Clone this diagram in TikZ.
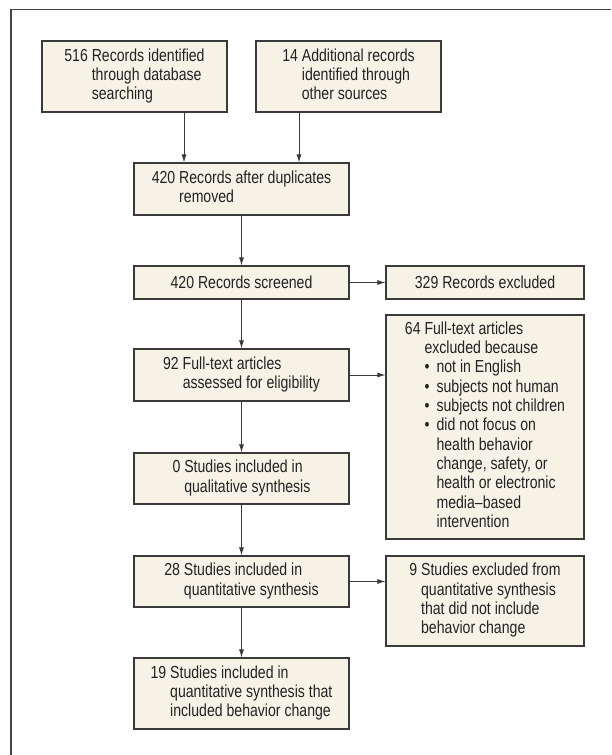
\documentclass[tikz,border=0pt]{standalone}
\usepackage{fontspec}
\setmainfont{Liberation Sans}[FakeStretch=0.81]
\usetikzlibrary{arrows.meta}
\definecolor{boxfill}{HTML}{F6F3E6}
\definecolor{boxline}{HTML}{3A3A3A}
\definecolor{txtcol}{HTML}{222222}
\definecolor{arrcol}{HTML}{3A3A3A}
\definecolor{framecol}{HTML}{444444}
\newcommand{\fbul}{\makebox[12pt][l]{•}}
\newcommand{\find}{\hspace*{12pt}}
\begin{document}
\begin{tikzpicture}[x=1pt,y=-1pt,
  flowbox/.style={draw=boxline, line width=1.1pt, fill=boxfill, inner sep=0pt,
    text=txtcol, font=\fontsize{17.4}{19.3}\selectfont,
    preaction={draw=black!35, line width=1.1pt, transform canvas={shift={(0.9pt,-0.9pt)}}}},
  arr/.style={draw=arrcol, line width=0.9pt, -{Latex[length=8pt,width=5pt]}}]
\useasboundingbox (0,0) rectangle (611,755);
\fill[white] (0,0) rectangle (611,755);
\draw[framecol, line width=1.4pt] (11,755) -- (11,9.5) -- (611,9.5);

\node[flowbox, minimum width=185pt, minimum height=71pt] (b1) at (134.5,76.5)
  {\begin{tabular}{@{}l@{ }l@{}}516 & Records identified\\ & through database\\ & searching\end{tabular}};
\node[flowbox, minimum width=185pt, minimum height=71pt] (b2) at (348.5,76.5)
  {\begin{tabular}{@{}l@{ }l@{}}14 & Additional records\\ & identified through\\ & other sources\end{tabular}};
\node[flowbox, minimum width=215pt, minimum height=52pt] (b3) at (241.5,189)
  {\begin{tabular}{@{}l@{ }l@{}}420 & Records after duplicates\\ & removed\end{tabular}};
\node[flowbox, minimum width=215pt, minimum height=33pt] (b4) at (241.5,282.5)
  {420 Records screened};
\node[flowbox, minimum width=215pt, minimum height=52pt] (b5) at (241.5,375)
  {\begin{tabular}{@{}l@{ }l@{}}92 & Full-text articles\\ & assessed for eligibility\end{tabular}};
\node[flowbox, minimum width=215pt, minimum height=51pt] (b6) at (241.5,478.5)
  {\begin{tabular}{@{}l@{ }l@{}}0 & Studies included in\\ & qualitative synthesis\end{tabular}};
\node[flowbox, minimum width=215pt, minimum height=51pt] (b7) at (241.5,581.5)
  {\begin{tabular}{@{}l@{ }l@{}}28 & Studies included in\\ & quantitative synthesis\end{tabular}};
\node[flowbox, minimum width=215pt, minimum height=71pt] (b8) at (241.5,693.5)
  {\begin{tabular}{@{}l@{ }l@{}}19 & Studies included in\\ & quantitative synthesis that\\ & included behavior change\end{tabular}};

\node[flowbox, minimum width=198pt, minimum height=33pt] (x1) at (485,282.5)
  {329 Records excluded};
\node[flowbox, minimum width=198pt, minimum height=224pt] (x2) at (485,427)
  {\begin{tabular}{@{}l@{ }l@{}}64 & Full-text articles\\ & excluded because\\
   & \fbul not in English\\ & \fbul subjects not human\\ & \fbul subjects not children\\
   & \fbul did not focus on\\ & \find health behavior\\ & \find change, safety, or\\
   & \find health or electronic\\ & \find media–based\\ & \find intervention\end{tabular}};
\node[flowbox, minimum width=198pt, minimum height=90pt] (x3) at (485,601)
  {\begin{tabular}{@{}l@{ }l@{}}9 & Studies excluded from\\ & quantitative synthesis\\ & that did not include\\ & behavior change\end{tabular}};

\coordinate (c1) at (184,0);
\coordinate (c2) at (299,0);
\draw[arr] (b1.south -| c1) -- (b3.north -| c1);
\draw[arr] (b2.south -| c2) -- (b3.north -| c2);
\draw[arr] (b3) -- (b4);
\draw[arr] (b4) -- (b5);
\draw[arr] (b5) -- (b6);
\draw[arr] (b6) -- (b7);
\draw[arr] (b7) -- (b8);
\draw[arr] (b4.east) -- (x1.west);
\draw[arr] (b5.east) -- (x2.west |- b5.east);
\draw[arr] (b7.east) -- (x3.west |- b7.east);
\end{tikzpicture}
\end{document}
